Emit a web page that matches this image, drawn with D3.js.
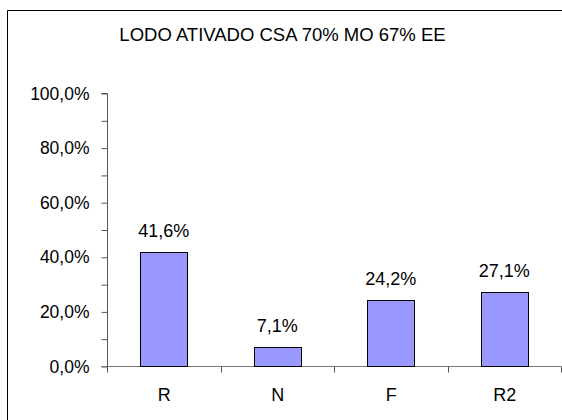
<!DOCTYPE html>
<html>
<head>
<meta charset="utf-8">
<script src="https://cdn.jsdelivr.net/npm/d3@7"></script>
<style>
  body { margin: 0; background: #fff; }
  text { font-family: "Liberation Sans", Arial, sans-serif; fill: #000; }
</style>
</head>
<body>
<div class="chart"></div>
<script>
// Chart data
var categories = ["R", "N", "F", "R2"];
var values = [0.416, 0.071, 0.242, 0.271];
var yTicks = [0, 0.2, 0.4, 0.6, 0.8, 1.0];
var yMinorTicks = [0.1, 0.3, 0.5, 0.7, 0.9];
var title = "LODO ATIVADO CSA 70% MO 67% EE";

// SVG area
var svgWidth = 562;
var svgHeight = 420;

var plot = { left: 107, right: 561, top: 93, bottom: 366 };

var svg = d3.select(".chart")
  .append("svg")
  .attr("width", svgWidth)
  .attr("height", svgHeight);

// outer frame (only top and left edges show)
svg.append("path")
  .attr("d", "M7.5,430 V10.5 H570")
  .attr("fill", "none")
  .attr("stroke", "#000")
  .attr("stroke-width", 1);

// title
svg.append("text")
  .attr("x", 282.5)
  .attr("y", 40.5)
  .attr("text-anchor", "middle")
  .style("font-size", "18.5px")
  .text(title);

var locale = d3.formatLocale({ decimal: ",", thousands: ".", grouping: [3], currency: ["", ""] });
var fmtAxis = locale.format(".1%");
var fmtLabel = locale.format(".1%");

// scales
var xBand = d3.scaleBand()
  .domain(categories)
  .range([plot.left, plot.right])
  .padding(0);

var yScale = d3.scaleLinear()
  .domain([0, 1])
  .range([plot.bottom, plot.top]);

// y axis
var leftAxis = d3.axisLeft(yScale)
  .tickValues(yTicks.concat(yMinorTicks))
  .tickSize(6)
  .tickPadding(12)
  .tickFormat(d => yTicks.some(t => Math.abs(t - d) < 1e-9) ? fmtAxis(d) : "");

var yG = svg.append("g")
  .attr("transform", `translate(${plot.left + 0.5}, 0.5)`)
  .call(leftAxis);
yG.select(".domain").attr("stroke", "#555").attr("d", `M-6,${plot.bottom}H0V${plot.top}H-6`);
yG.selectAll(".tick line").attr("stroke", "#555");
yG.selectAll(".tick text").style("font-size", "17.5px").attr("fill", "#000");

// x axis line with ticks on the category boundaries
var bounds = categories.map(d => xBand(d)).concat([plot.right]);
var xG = svg.append("g").attr("transform", "translate(0.5, 0.5)");
xG.append("line")
  .attr("x1", plot.left - 6).attr("x2", plot.right)
  .attr("y1", plot.bottom).attr("y2", plot.bottom)
  .attr("stroke", "#777");
xG.selectAll(".xtick")
  .data(bounds)
  .enter()
  .append("line")
  .attr("class", "xtick")
  .attr("x1", d => Math.round(d)).attr("x2", d => Math.round(d))
  .attr("y1", plot.bottom).attr("y2", plot.bottom + 6)
  .attr("stroke", "#555");

xG.selectAll(".xlabel")
  .data(categories)
  .enter()
  .append("text")
  .attr("class", "xlabel")
  .attr("x", d => xBand(d) + xBand.bandwidth() / 2)
  .attr("y", 400)
  .attr("text-anchor", "middle")
  .style("font-size", "18px")
  .text(d => d);

// bars
var barW = xBand.bandwidth() * 0.41;
svg.selectAll(".bar")
  .data(values)
  .enter()
  .append("rect")
  .attr("class", "bar")
  .attr("x", (d, i) => Math.round(xBand(categories[i]) + (xBand.bandwidth() - barW) / 2) + 0.5)
  .attr("y", d => Math.round(yScale(d)) + 0.5)
  .attr("width", Math.round(barW))
  .attr("height", d => plot.bottom - Math.round(yScale(d)))
  .attr("fill", "#9999FF")
  .attr("stroke", "#000")
  .attr("stroke-width", 1);

// value labels
svg.selectAll(".vlabel")
  .data(values)
  .enter()
  .append("text")
  .attr("class", "vlabel")
  .attr("x", (d, i) => xBand(categories[i]) + xBand.bandwidth() / 2)
  .attr("y", d => yScale(d) - 15)
  .attr("text-anchor", "middle")
  .style("font-size", "18px")
  .text(d => fmtLabel(d));
</script>
</body>
</html>
